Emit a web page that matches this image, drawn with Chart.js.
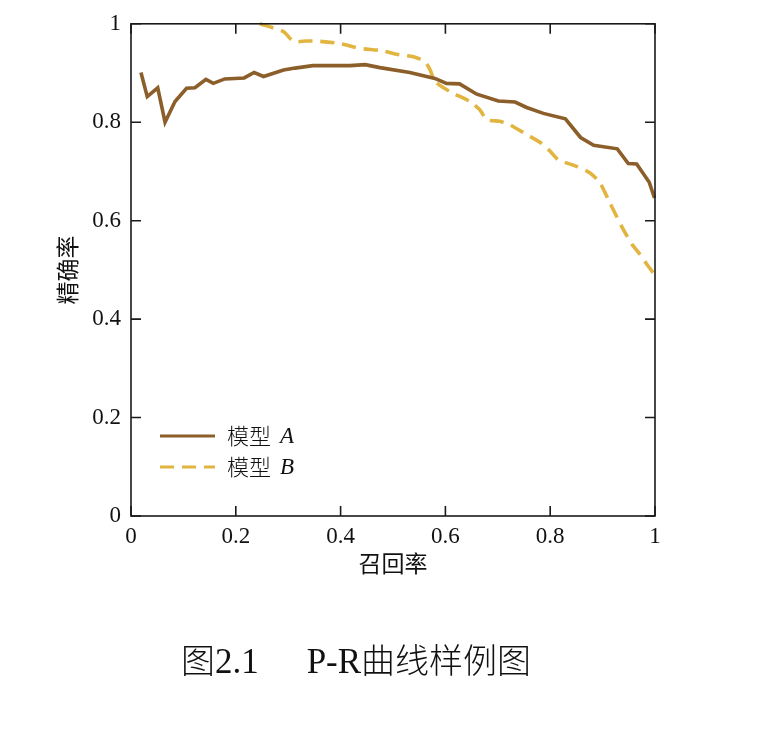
<!DOCTYPE html>
<html>
<head>
<meta charset="utf-8">
<script src="https://cdn.jsdelivr.net/npm/chart.js@4/dist/chart.umd.min.js"></script>
<style>
  html, body { margin:0; padding:0; background:#fff; }
  #wrap { position:relative; width:762px; height:734px; }
  #caption { position:absolute; left:0; width:712px; top:637px; text-align:center; line-height:44px;
    font-family:"Liberation Serif","Noto Sans CJK SC",serif; font-size:35px; color:#111; white-space:nowrap; }
  #caption .cjk { font-family:"Noto Sans CJK SC",sans-serif; font-weight:300; font-size:34px; }
</style>
</head>
<body>
<div id="wrap">
  <canvas id="c" width="762" height="734"></canvas>
  <div id="caption"><span class="cjk">图</span>2.1<span style="display:inline-block;width:48px"></span>P-R<span class="cjk">曲线样例图</span></div>
</div>
<script>
// ---- data ----
const modelNames = ["模型", "模型"];
const modelLetters = ["A", "B"];
const recallA = [0.019,0.031,0.051,0.065,0.084,0.106,0.122,0.143,0.157,0.179,0.216,0.235,0.253,0.291,0.313,0.347,0.418,0.447,0.475,0.532,0.580,0.602,0.627,0.660,0.701,0.733,0.755,0.787,0.829,0.858,0.883,0.928,0.949,0.965,0.989,0.999];
const precisionA = [0.901,0.852,0.870,0.800,0.842,0.869,0.870,0.887,0.879,0.888,0.890,0.901,0.893,0.906,0.910,0.915,0.915,0.917,0.911,0.901,0.889,0.879,0.878,0.857,0.843,0.841,0.830,0.818,0.807,0.769,0.753,0.746,0.716,0.715,0.678,0.646];
const recallB = [0.246,0.291,0.310,0.335,0.354,0.399,0.437,0.475,0.513,0.539,0.561,0.571,0.580,0.609,0.647,0.666,0.679,0.704,0.723,0.755,0.781,0.800,0.815,0.851,0.876,0.895,0.914,0.936,0.956,0.971,0.984,0.999];
const precisionB = [1.000,0.984,0.964,0.965,0.965,0.960,0.950,0.946,0.937,0.933,0.923,0.906,0.883,0.862,0.842,0.825,0.805,0.802,0.795,0.775,0.759,0.741,0.724,0.710,0.697,0.677,0.636,0.589,0.552,0.532,0.512,0.491];
const xTicks = [0, 0.2, 0.4, 0.6, 0.8, 1];
const yTicks = [0, 0.2, 0.4, 0.6, 0.8, 1];
const xTitle = "召回率";
const yTitle = "精确率";

const colA = "rgb(139,94,42)";
const colB = "rgb(226,181,64)";

const toPts = (xs, ys) => xs.map((x, i) => ({x, y: ys[i]}));

const frameTicks = {
  id: 'frameTicks',
  afterDatasetsDraw(chart) {
    const {ctx, chartArea: a, scales: {x, y}} = chart;
    ctx.save();
    ctx.strokeStyle = '#1a1a1a';
    ctx.lineWidth = 1.6;
    ctx.strokeRect(a.left, a.top, a.right - a.left, a.bottom - a.top);
    const L = 10;
    ctx.beginPath();
    xTicks.forEach(v => {
      const px = x.getPixelForValue(v);
      ctx.moveTo(px, a.bottom); ctx.lineTo(px, a.bottom - L);
      ctx.moveTo(px, a.top); ctx.lineTo(px, a.top + L);
    });
    yTicks.forEach(v => {
      const py = y.getPixelForValue(v);
      ctx.moveTo(a.left, py); ctx.lineTo(a.left + L, py);
      ctx.moveTo(a.right, py); ctx.lineTo(a.right - L, py);
    });
    ctx.stroke();
    // legend
    const ds = chart.data.datasets;
    const lx0 = a.left + 29, lx1 = a.left + 84, rowY = [a.bottom - 80, a.bottom - 49];
    ds.forEach((d, i) => {
      const yy = rowY[i];
      ctx.beginPath();
      ctx.strokeStyle = d.borderColor;
      ctx.lineWidth = 3;
      ctx.setLineDash(d.borderDash || []);
      ctx.moveTo(lx0, yy); ctx.lineTo(lx1, yy);
      ctx.stroke();
      ctx.setLineDash([]);
      ctx.fillStyle = '#111';
      ctx.textBaseline = 'middle';
      ctx.textAlign = 'left';
      ctx.font = '300 22px "Noto Sans CJK SC"';
      ctx.fillText(modelNames[i], lx0 + 67, yy);
      const w = ctx.measureText(modelNames[i]).width;
      ctx.font = 'italic 23px "Liberation Serif"';
      ctx.fillText(modelLetters[i], lx0 + 67 + w + 9, yy + 1);
    });
    ctx.restore();
  }
};

new Chart(document.getElementById('c'), {
  type: 'line',
  data: {
    datasets: [
      { label: modelNames[0] + ' ' + modelLetters[0], data: toPts(recallA, precisionA), borderColor: colA, borderWidth: 3.6, pointRadius: 0, tension: 0, fill: false },
      { label: modelNames[1] + ' ' + modelLetters[1], data: toPts(recallB, precisionB), borderColor: colB, borderWidth: 3.6, borderDash: [14, 8], pointRadius: 0, tension: 0.2, fill: false }
    ]
  },
  options: {
    responsive: false,
    animation: false,
    clip: {left: 2, right: 2, top: 2, bottom: 2},
    layout: { padding: { top: 22, right: 107, bottom: 148, left: 0 } },
    plugins: { legend: { display: false }, tooltip: { enabled: false } },
    scales: {
      x: {
        type: 'linear', min: 0, max: 1,
        afterBuildTicks: s => { s.ticks = xTicks.map(v => ({value: v})); },
        afterFit: s => { s.height = 70; },
        grid: { display: false, drawTicks: false },
        border: { display: false },
        ticks: { padding: 7, color: '#111', font: { family: 'Liberation Serif', size: 23 }, callback: v => String(v), maxRotation: 0 },
        title: { display: true, text: xTitle, color: '#111', font: { family: 'Noto Sans CJK SC', size: 23, weight: '400' }, padding: { top: 0, bottom: 9 } }
      },
      y: {
        type: 'linear', min: 0, max: 1,
        afterBuildTicks: s => { s.ticks = yTicks.map(v => ({value: v})); },
        afterFit: s => { s.width = 131; },
        grid: { display: false, drawTicks: false },
        border: { display: false },
        ticks: { padding: 10, color: '#111', font: { family: 'Liberation Serif', size: 23 }, callback: v => String(v) },
        title: { display: true, text: yTitle, color: '#111', font: { family: 'Noto Sans CJK SC', size: 23, weight: '400' }, padding: { top: 53, bottom: 0 } }
      }
    }
  },
  plugins: [frameTicks]
});
</script>
</body>
</html>
